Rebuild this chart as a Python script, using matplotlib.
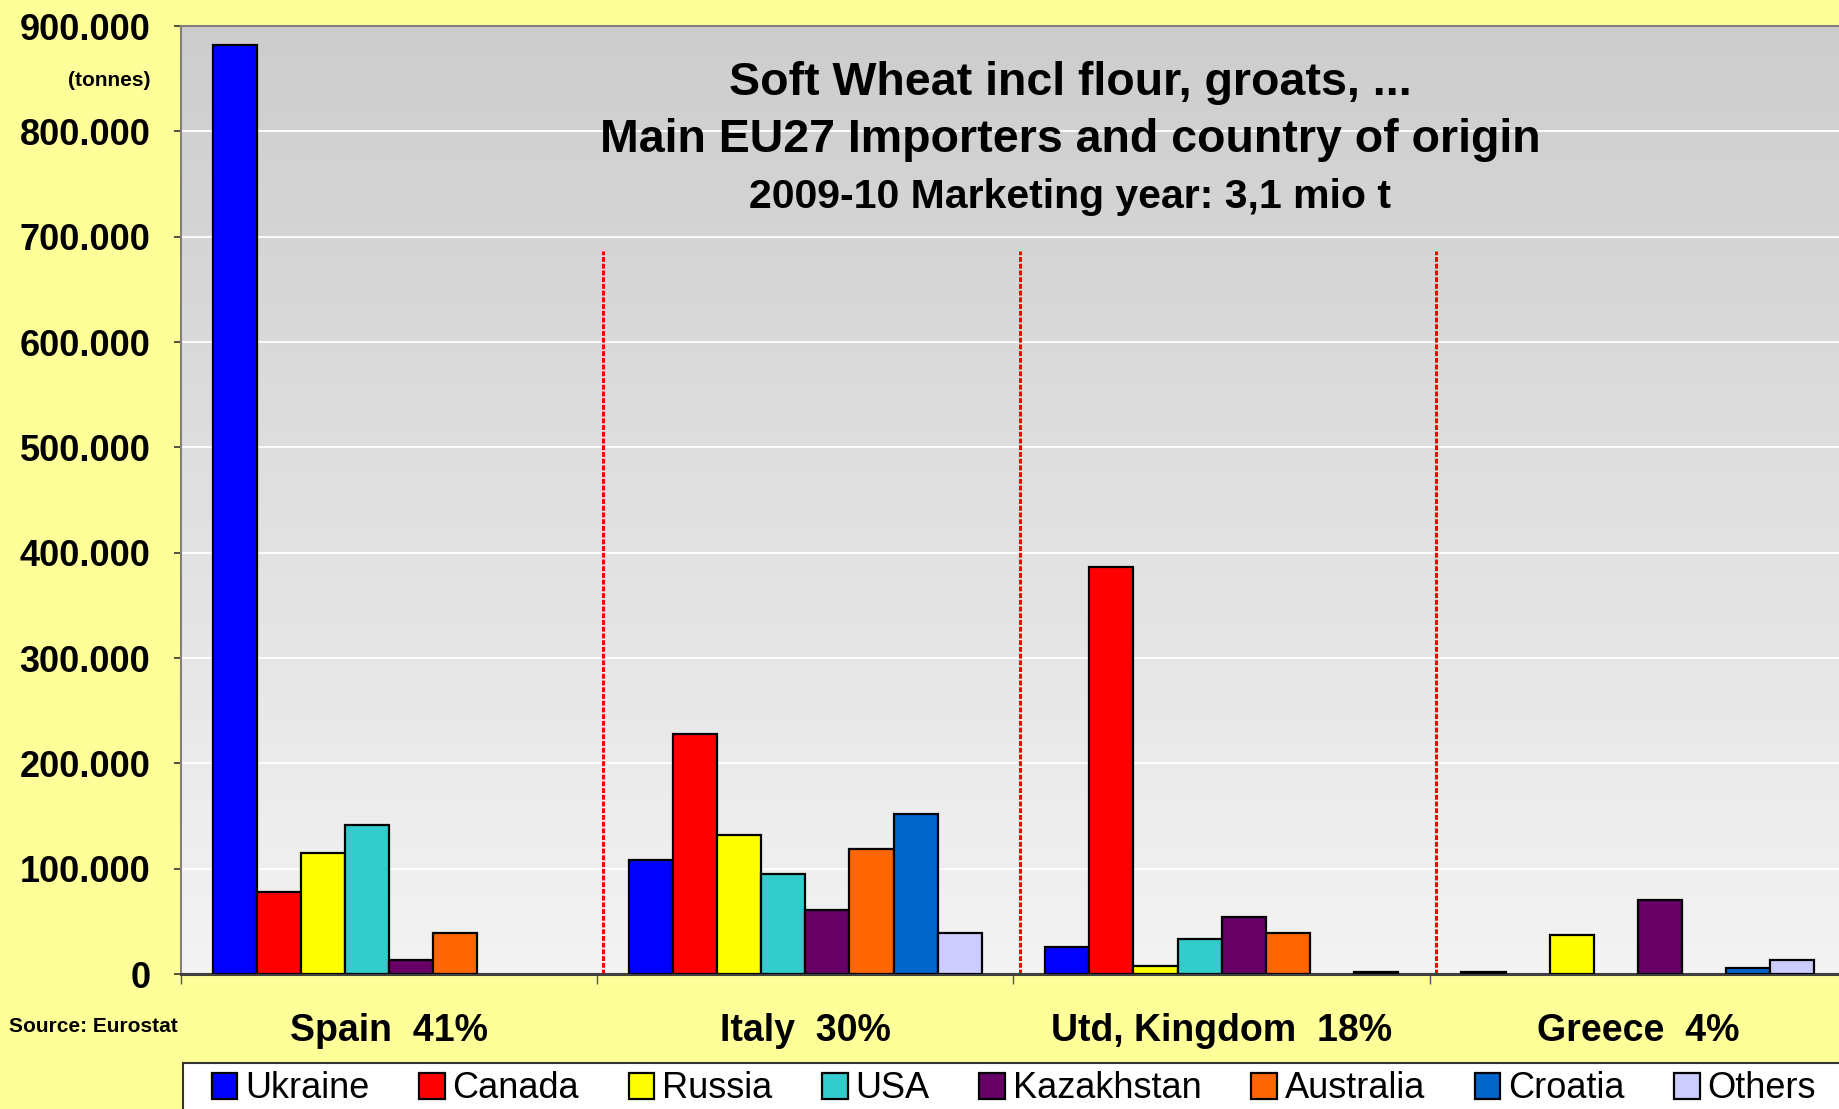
import numpy as np
import matplotlib
matplotlib.use('Agg')
import matplotlib.pyplot as plt
from matplotlib.patches import Rectangle

# importers (with share of EU27 imports) and countries of origin
categories = ['Spain  41%', 'Italy  30%', 'Utd, Kingdom  18%', 'Greece  4%']
origins = ['Ukraine', 'Canada', 'Russia', 'USA', 'Kazakhstan', 'Australia', 'Croatia', 'Others']

# tonnes (Spain, Italy, UK, Greece)
ukraine = [882000, 108000, 26000, 2000]
canada = [78000, 228000, 386000, 0]
russia = [115000, 132000, 8000, 37000]
usa = [141000, 95000, 33000, 0]
kazakhstan = [13000, 61000, 54000, 70000]
australia = [39000, 119000, 39000, 0]
croatia = [0, 152000, 0, 6000]
others = [0, 39000, 2000, 13000]

series = [ukraine, canada, russia, usa, kazakhstan, australia, croatia, others]
colors = ['#0000FF', '#FF0000', '#FFFF00', '#33CCCC', '#660066', '#FF6600', '#0066CC', '#CCCCFF']

yticks = np.arange(0, 900001, 100000)
ytick_labels = ['0'] + [f'{v // 1000}.000' for v in yticks[1:]]

W, H = 1840, 1109
fig = plt.figure(figsize=(W / 100, H / 100), dpi=100)
fig.patch.set_facecolor('#FFFF99')

arial = ['Liberation Sans', 'DejaVu Sans']

# plot area runs slightly past the right edge of the picture, like the original
ax = fig.add_axes([181 / W, 1 - 974 / H, (1846 - 181) / W, (974 - 26) / H])

# gray gradient background
grad = np.linspace(0.95, 0.80, 256).reshape(-1, 1)
ax.imshow(grad, cmap='gray', vmin=0, vmax=1, aspect='auto', extent=[0, 1, 0, 1],
          transform=ax.transAxes, zorder=0, origin='lower', interpolation='nearest')

x = np.arange(len(categories))
bw = 0.106
handles = []
for i, (vals, col, name) in enumerate(zip(series, colors, origins)):
    offs = -4 * bw + bw / 2 + i * bw
    b = ax.bar(x + offs, vals, width=bw, color=col, edgecolor='black', linewidth=1.6,
               label=name, zorder=3)
    # empty slots show nothing
    for p, v in zip(b.patches, vals):
        if v == 0:
            p.set_visible(False)
    handles.append(next(p for p, v in zip(b.patches, vals) if v > 0))

ax.set_xlim(-0.5, len(categories) - 0.5)
ax.set_ylim(0, 900000)

# white gridlines
for y in yticks[1:]:
    ax.axhline(y, color='white', lw=1.3, zorder=1)

# red dotted separators between importers
ax.vlines(np.arange(len(categories) - 1) + 0.5 + 0.015, 0, 686000, colors='red',
          linestyles=(0, (1.6, 0.6)), lw=2.2, zorder=2)

ax.set_yticks(yticks)
ax.set_yticklabels(ytick_labels, family=arial, fontweight='bold', fontsize=26)
ax.tick_params(axis='y', length=5, width=1.2, color='#333333', pad=17)

ax.set_xticks(x)
ax.set_xticklabels(categories, family=arial, fontweight='bold', fontsize=27)
ax.set_xticks(np.arange(len(categories) + 1) - 0.5, minor=True)
ax.tick_params(axis='x', which='major', length=0, pad=28)
ax.tick_params(axis='x', which='minor', length=7, width=1, color='#555555')

for s in ['left', 'top', 'right']:
    ax.spines[s].set_color('#808080')
    ax.spines[s].set_linewidth(1.5)
ax.spines['bottom'].set_color('#404040')
ax.spines['bottom'].set_linewidth(2.2)

# titles inside plot area
fig.text(1070 / W, 1 - 83 / H, 'Soft Wheat incl flour, groats, ...', ha='center', va='center',
         family=arial, fontweight='bold', fontsize=33.5)
fig.text(1070 / W, 1 - 140 / H, 'Main EU27 Importers and country of origin', ha='center', va='center',
         family=arial, fontweight='bold', fontsize=33.5)
fig.text(1070 / W, 1 - 197 / H, '2009-10 Marketing year: 3,1 mio t', ha='center', va='center',
         family=arial, fontweight='bold', fontsize=29.5)

fig.text(151 / W, 1 - 80 / H, '(tonnes)', ha='right', va='center', family=arial,
         fontweight='bold', fontsize=15)
fig.text(9 / W, 1 - 1027 / H, 'Source: Eurostat', ha='left', va='center', family=arial,
         fontweight='bold', fontsize=15)

# legend box runs off the bottom/right edge in the original
fig.patches.append(Rectangle((183 / W, -0.05), 1.1, (1 - 1063 / H) + 0.05,
                             transform=fig.transFigure, facecolor='white',
                             edgecolor='#333333', linewidth=1.5, zorder=1))

leg = fig.legend(handles=handles, labels=origins, loc='center left',
                 bbox_to_anchor=(212 / W, 1 - 1089 / H), ncol=8, frameon=False,
                 prop={'family': arial, 'size': 26}, handlelength=0.7, handleheight=0.72,
                 handletextpad=0.22, columnspacing=1.38, borderaxespad=0, borderpad=0)
leg.set_zorder(2)

fig.savefig('out.png', dpi=100, facecolor=fig.get_facecolor())
